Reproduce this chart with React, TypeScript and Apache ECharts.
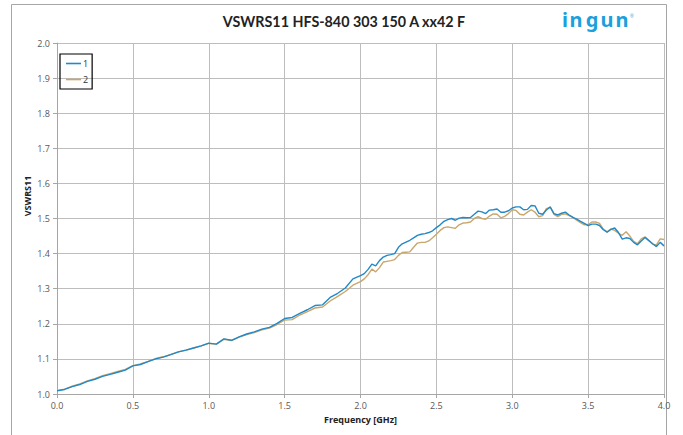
import React, { useEffect, useRef } from "react";
import * as echarts from "echarts";

const freqLow = [
  0.0, 0.05, 0.1, 0.15, 0.2, 0.25, 0.3, 0.35, 0.4, 0.45, 0.5, 0.55, 0.6, 0.65, 0.7, 0.75, 0.8, 0.85, 0.9, 0.95,
  1.0, 1.05, 1.1, 1.15, 1.2, 1.25, 1.3, 1.35, 1.4, 1.45, 1.5, 1.55, 1.6, 1.65, 1.7, 1.75, 1.8, 1.85, 1.9, 1.95,
];
const freqHigh = [
  2.0, 2.025, 2.05, 2.075, 2.1, 2.125, 2.15, 2.175, 2.2, 2.225, 2.25, 2.275, 2.3, 2.325, 2.35, 2.375, 2.4, 2.425, 2.45, 2.475,
  2.5, 2.525, 2.55, 2.575, 2.6, 2.625, 2.65, 2.675, 2.7, 2.725, 2.75, 2.775, 2.8, 2.825, 2.85, 2.875, 2.9, 2.925, 2.95, 2.975,
  3.0, 3.025, 3.05, 3.075, 3.1, 3.125, 3.15, 3.175, 3.2, 3.225, 3.25, 3.275, 3.3, 3.325, 3.35, 3.375, 3.4, 3.425, 3.45, 3.475,
  3.5, 3.525, 3.55, 3.575, 3.6, 3.625, 3.65, 3.675, 3.7, 3.725, 3.75, 3.775, 3.8, 3.825, 3.85, 3.875, 3.9, 3.925, 3.95, 3.975, 4.0,
];
const frequency = [...freqLow, ...freqHigh];

const series1 = [
  1.009, 1.013, 1.021, 1.027, 1.036, 1.042, 1.05, 1.056, 1.062, 1.068, 1.08, 1.084, 1.092, 1.1, 1.105, 1.112, 1.12, 1.125, 1.131, 1.137,
  1.145, 1.142, 1.157, 1.153, 1.163, 1.171, 1.177, 1.185, 1.19, 1.201, 1.215, 1.218, 1.23, 1.24, 1.252, 1.254, 1.275, 1.287, 1.302, 1.328,
  1.337, 1.343, 1.355, 1.37, 1.365, 1.38, 1.39, 1.395, 1.397, 1.4, 1.418, 1.428, 1.433, 1.438, 1.445, 1.452, 1.455, 1.457, 1.46, 1.465,
  1.474, 1.482, 1.492, 1.497, 1.5, 1.495, 1.501, 1.503, 1.502, 1.503, 1.512, 1.521, 1.519, 1.514, 1.524, 1.525, 1.527, 1.518, 1.518, 1.522,
  1.53, 1.533, 1.533, 1.525, 1.526, 1.537, 1.536, 1.515, 1.512, 1.524, 1.533, 1.514, 1.51, 1.515, 1.518, 1.51, 1.503, 1.498, 1.492, 1.486,
  1.48, 1.484, 1.484, 1.48, 1.468, 1.461, 1.469, 1.473, 1.46, 1.441, 1.445, 1.443, 1.432, 1.425, 1.436, 1.446, 1.437, 1.428, 1.42, 1.432, 1.422,
];
const series2 = [
  1.01, 1.014, 1.022, 1.029, 1.037, 1.044, 1.052, 1.058, 1.064, 1.07, 1.081, 1.086, 1.093, 1.101, 1.106, 1.113, 1.12, 1.125, 1.131, 1.137,
  1.144, 1.142, 1.156, 1.152, 1.162, 1.169, 1.175, 1.183, 1.188, 1.198, 1.211, 1.212, 1.225, 1.235, 1.245, 1.248, 1.265, 1.278, 1.292, 1.31,
  1.32, 1.328, 1.34, 1.356, 1.348, 1.36, 1.376, 1.378, 1.38, 1.383, 1.395, 1.403, 1.404, 1.405, 1.418, 1.43, 1.432, 1.432, 1.436, 1.445,
  1.455, 1.466, 1.474, 1.476, 1.474, 1.472, 1.482, 1.487, 1.488, 1.49, 1.5, 1.505, 1.5, 1.498, 1.507, 1.513, 1.512, 1.502, 1.506, 1.514,
  1.525, 1.523, 1.512, 1.51, 1.518, 1.525, 1.518, 1.505, 1.508, 1.528, 1.532, 1.512, 1.505, 1.512, 1.513, 1.508, 1.503, 1.495, 1.488, 1.482,
  1.483, 1.49, 1.49, 1.486, 1.47, 1.462, 1.47, 1.466, 1.458, 1.452, 1.462, 1.45, 1.435, 1.428, 1.442, 1.448, 1.438, 1.427, 1.425, 1.442, 1.44,
];

const seriesNames = ["1", "2"];
const seriesColors = ["#2189C8", "#C9A66B"];
const titleText = "VSWRS11 HFS-840 303 150 A xx42 F";
const xAxisName = "Frequency [GHz]";
const yAxisName = "VSWRS11";
const logoLetters = ["i", "n", "g", "u", "n"];

export default function App() {
  const ref = useRef<HTMLDivElement>(null);
  useEffect(() => {
    if (!ref.current) return;
    const chart = echarts.init(ref.current, undefined, { renderer: "svg" });
    const font = "'Open Sans', 'Noto Sans', sans-serif";
    const mk = (vals: number[]) => frequency.map((f, i) => [f, vals[i]]);
    const logoX = [565, 576, 592, 607, 622];
    const logo = logoLetters.map((ch, i) => ({
      type: "text",
      x: logoX[i],
      y: 19,
      style: {
        text: ch,
        fontSize: 20,
        fontWeight: "bold",
        fontFamily: "'Noto Sans', sans-serif",
        fill: "#1AA0DC",
        textAlign: "center",
        textVerticalAlign: "middle",
      },
    }));
    chart.setOption({
      animation: false,
      backgroundColor: "#ffffff",
      grid: { left: 57, right: 19, top: 43, bottom: 41 },
      legend: {
        left: 60,
        top: 54,
        orient: "vertical",
        borderColor: "#000000",
        borderWidth: 1.2,
        padding: [5, 4, 5, 6],
        icon: "rect",
        itemWidth: 15,
        itemHeight: 1.6,
        itemGap: 7,
        textStyle: { fontSize: 9, color: "#333", fontFamily: font, padding: [0, 0, 0, -3] },
        data: seriesNames,
      },
      xAxis: {
        type: "value",
        min: 0,
        max: 4,
        interval: 0.5,
        name: xAxisName,
        nameLocation: "middle",
        nameGap: 21,
        nameTextStyle: { fontSize: 9, fontWeight: "bold", color: "#222", fontFamily: font },
        axisLine: { show: true, lineStyle: { color: "#A6A6A6" } },
        axisTick: { show: true, length: 4, lineStyle: { color: "#A6A6A6" } },
        axisLabel: { fontSize: 9, color: "#595959", fontFamily: font, margin: 7, formatter: (v: number) => v.toFixed(1) },
        splitLine: { show: true, lineStyle: { color: "#BDBDBD", width: 1 } },
      },
      yAxis: {
        type: "value",
        min: 1,
        max: 2,
        interval: 0.1,
        axisLine: { show: true, lineStyle: { color: "#A6A6A6" } },
        axisTick: { show: true, length: 4, lineStyle: { color: "#A6A6A6" } },
        axisLabel: { fontSize: 9, color: "#595959", fontFamily: font, margin: 7, formatter: (v: number) => v.toFixed(1) },
        splitLine: { show: true, lineStyle: { color: "#BDBDBD", width: 1 } },
      },
      series: [
        {
          name: seriesNames[1],
          type: "line",
          data: mk(series2),
          symbol: "none",
          lineStyle: { color: seriesColors[1], width: 1.4 },
          itemStyle: { color: seriesColors[1] },
          z: 2,
        },
        {
          name: seriesNames[0],
          type: "line",
          data: mk(series1),
          symbol: "none",
          lineStyle: { color: seriesColors[0], width: 1.4 },
          itemStyle: { color: seriesColors[0] },
          z: 3,
        },
      ],
      graphic: [
        {
          type: "rect",
          shape: { x: 11.5, y: 4.5, width: 655, height: 440 },
          style: { fill: "none", stroke: "#A6A6A6", lineWidth: 1 },
          silent: true,
          z: -10,
        },
        {
          type: "text",
          x: 344,
          y: 21,
          style: {
            text: titleText,
            fontSize: 14.3,
            fontWeight: "bold",
            fontFamily: "Lato, 'Open Sans', sans-serif",
            fill: "#222",
            textAlign: "center",
            textVerticalAlign: "middle",
          },
        },
        ...logo,
        {
          type: "text",
          x: 630,
          y: 16,
          style: { text: "®", fontSize: 5, fill: "#1AA0DC", textAlign: "left", textVerticalAlign: "middle" },
        },
        {
          type: "text",
          x: 27,
          y: 196,
          rotation: Math.PI / 2,
          style: {
            text: yAxisName,
            fontSize: 9,
            fontWeight: "bold",
            fontFamily: font,
            fill: "#222",
            textAlign: "center",
            textVerticalAlign: "middle",
          },
        },
      ],
    });
    return () => chart.dispose();
  }, []);
  return <div ref={ref} style={{ position: "fixed", left: 0, top: 0, width: 683, height: 435 }} />;
}
